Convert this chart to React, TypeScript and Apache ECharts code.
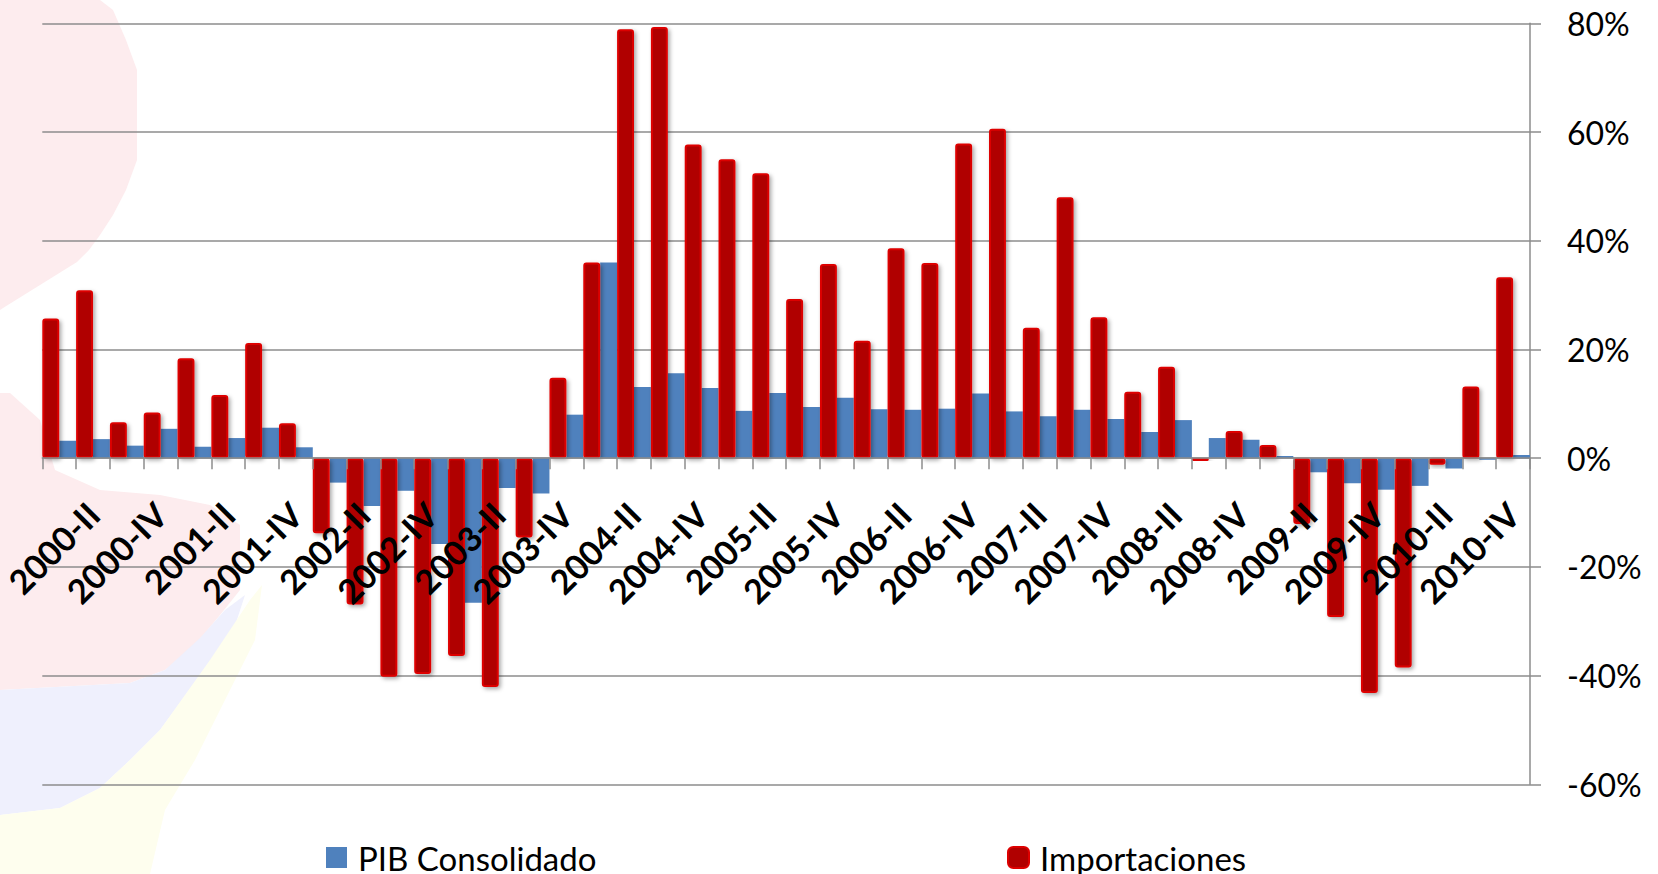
import React, { useEffect, useRef } from 'react';
import * as echarts from 'echarts';

const categories = [
  '2000-I', '2000-II', '2000-III', '2000-IV',
  '2001-I', '2001-II', '2001-III', '2001-IV',
  '2002-I', '2002-II', '2002-III', '2002-IV',
  '2003-I', '2003-II', '2003-III', '2003-IV',
  '2004-I', '2004-II', '2004-III', '2004-IV',
  '2005-I', '2005-II', '2005-III', '2005-IV',
  '2006-I', '2006-II', '2006-III', '2006-IV',
  '2007-I', '2007-II', '2007-III', '2007-IV',
  '2008-I', '2008-II', '2008-III', '2008-IV',
  '2009-I', '2009-II', '2009-III', '2009-IV',
  '2010-I', '2010-II', '2010-III', '2010-IV',
];

const pibConsolidado = [
  3.2, 3.5, 2.3, 5.4, 2.1, 3.7, 5.6, 2.0,
  -4.5, -8.8, -6.0, -15.8, -26.6, -5.5, -6.5, 8.0,
  36.0, 13.1, 15.6, 12.9, 8.7, 12.0, 9.4, 11.1,
  9.0, 8.9, 9.1, 11.9, 8.6, 7.7, 8.9, 7.2,
  4.8, 7.0, 3.7, 3.4, 0.4, -2.6, -4.6, -5.8,
  -5.1, -1.9, -0.3, 0.6,
];

const importaciones = [
  25.7, 30.9, 6.6, 8.4, 18.4, 11.6, 21.2, 6.4,
  -13.8, -26.9, -40.2, -39.7, -36.4, -42.1, -14.6, 14.8,
  36.0, 78.9, 79.3, 57.7, 55.0, 52.4, 29.3, 35.7,
  21.6, 38.6, 35.9, 57.9, 60.6, 24.0, 48.0, 25.9,
  12.2, 16.8, -0.5, 5.0, 2.4, -12.1, -29.2, -43.2,
  -38.5, -1.2, 13.2, 33.3,
];

const seriesNames = ['PIB Consolidado', 'Importaciones'];

const FONT = 'Lato, "Noto Sans", sans-serif';

const pinkTop = [[0, 0], [100, 0], [113, 10], [126, 40], [137, 70], [137, 160], [126, 190], [113, 215], [100, 235], [89, 250], [77, 262], [40, 285], [3, 308], [0, 310]];
const pinkLow = [[0, 393], [10, 393], [40, 420], [55, 470], [100, 490], [160, 495], [210, 505], [240, 525], [240, 590], [220, 615], [195, 645], [165, 670], [130, 683], [0, 690]];
const blueLow = [[0, 690], [130, 683], [165, 670], [200, 638], [225, 610], [245, 595], [232, 635], [205, 668], [182, 700], [160, 730], [130, 760], [100, 788], [60, 808], [0, 815]];
const yellowLow = [[0, 815], [60, 808], [100, 788], [130, 760], [160, 730], [185, 695], [210, 660], [250, 600], [262, 585], [255, 640], [225, 700], [195, 760], [165, 810], [150, 874], [0, 874]];

const Y_MIN = -60;
const Y_MAX = 80;
const GRID_TOP = 23.3;
const GRID_BOTTOM_Y = 784.3;

export default function App() {
  const ref = useRef<HTMLDivElement>(null);
  useEffect(() => {
    const chart = echarts.init(ref.current as HTMLDivElement, null, { renderer: 'svg' });
    const zeroOffset = ((0 - Y_MIN) / (Y_MAX - Y_MIN)) * (GRID_BOTTOM_Y - GRID_TOP);
    const legendText = { fontFamily: FONT, fontSize: 33, lineHeight: 30, color: '#000', padding: [0, 0, 0, 6] };
    chart.setOption({
      animation: false,
      backgroundColor: '#ffffff',
      textStyle: { fontFamily: FONT },
      graphic: {
        elements: [
          { type: 'polygon', z: -10, silent: true, shape: { points: pinkTop }, style: { fill: '#fdecee' } },
          { type: 'polygon', z: -10, silent: true, shape: { points: pinkLow }, style: { fill: '#fdecee' } },
          { type: 'polygon', z: -10, silent: true, shape: { points: blueLow }, style: { fill: '#eff0fd' } },
          { type: 'polygon', z: -10, silent: true, shape: { points: yellowLow }, style: { fill: '#fefeee' } },
        ],
      },
      grid: {
        left: 42.3,
        right: 128,
        top: GRID_TOP,
        bottom: 874 - GRID_BOTTOM_Y,
        containLabel: false,
        outerBoundsMode: 'none',
      },
      legend: [
        {
          data: [seriesNames[0]],
          left: 326,
          top: 841,
          padding: 0,
          icon: 'rect',
          itemWidth: 21,
          itemHeight: 21,
          textStyle: legendText,
        },
        {
          data: [seriesNames[1]],
          left: 1007,
          top: 841,
          padding: 0,
          icon: 'roundRect',
          itemWidth: 21,
          itemHeight: 21,
          textStyle: legendText,
        },
      ],
      xAxis: {
        type: 'category',
        data: categories,
        z: 10,
        offset: -zeroOffset,
        axisLine: { onZero: false, lineStyle: { color: '#8c8c8c', width: 1.5 } },
        axisTick: { show: true, interval: 0, length: 11, lineStyle: { color: '#8c8c8c', width: 1.5 } },
        axisLabel: {
          interval: (i: number) => i % 2 === 1,
          rotate: 45,
          margin: 50,
          fontFamily: FONT,
          fontWeight: 'bold',
          fontSize: 34,
          color: '#000',
        },
        splitLine: { show: false },
      },
      yAxis: {
        type: 'value',
        position: 'right',
        min: Y_MIN,
        max: Y_MAX,
        interval: 20,
        axisLine: { show: true, lineStyle: { color: '#8c8c8c', width: 1.5 } },
        axisTick: { show: true, length: 11, lineStyle: { color: '#8c8c8c', width: 1.5 } },
        axisLabel: {
          formatter: '{value}%',
          margin: 37,
          fontFamily: FONT,
          fontSize: 32,
          color: '#000',
          align: 'left',
        },
        splitLine: { show: true, lineStyle: { color: '#8c8c8c', width: 1.5 } },
      },
      series: [
        {
          name: seriesNames[1],
          type: 'bar',
          data: importaciones,
          z: 3,
          barGap: '0%',
          barCategoryGap: '0%',
          itemStyle: {
            color: '#b00000',
            borderColor: '#dd0000',
            borderWidth: 2,
            borderRadius: 2,
            shadowBlur: 4,
            shadowOffsetX: 2,
            shadowOffsetY: 2,
            shadowColor: 'rgba(0,0,0,0.35)',
          },
        },
        {
          name: seriesNames[0],
          type: 'bar',
          data: pibConsolidado,
          z: 2,
          barGap: '0%',
          barCategoryGap: '0%',
          itemStyle: { color: '#4f81bd' },
        },
      ],
    });
    return () => chart.dispose();
  }, []);
  return (
    <div
      ref={ref}
      style={{ position: 'fixed', left: 0, top: 0, width: 1658, height: 874, background: '#fff' }}
    />
  );
}
